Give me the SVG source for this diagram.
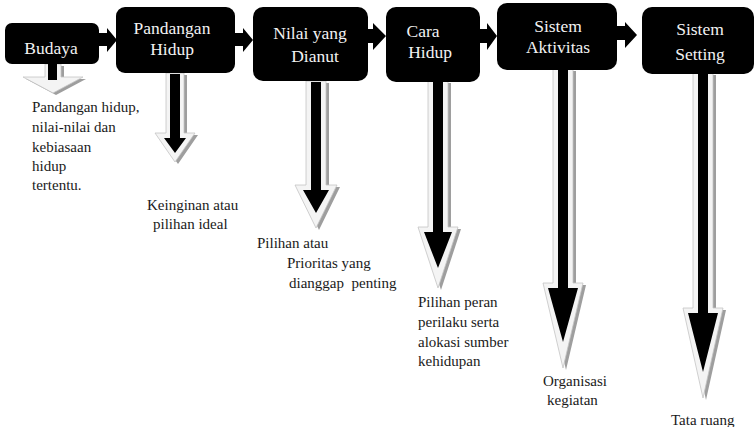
<svg xmlns="http://www.w3.org/2000/svg" width="754" height="427" viewBox="0 0 754 427">
<style>
.box{fill:#000}
.lbl{font-family:"Liberation Serif","Times New Roman",serif;font-size:17.5px;fill:#f2f2f2;text-anchor:middle}
.txt{font-family:"Liberation Serif","Times New Roman",serif;font-size:15px;fill:#1a1a1a}
.harr{fill:#000}
.sh{fill:#9e9e9e}
.out{fill:#f4f4f4;stroke:#c4c4c4;stroke-width:0.8}
.in{fill:#000}
</style>
<rect width="754" height="427" fill="#fff"/>
<g id="connectors">
  <polygon class="harr" points="97,33 107,33 107,28 117,40 107,52 107,46 97,46"/>
  <polygon class="harr" points="234,33 243,33 243,28 253,40 243,52 243,46 234,46"/>
  <polygon class="harr" points="366,29 373,29 373,23 386,36 373,50 373,43 366,43"/>
  <polygon class="harr" points="479,29 487,29 487,23 497,36 487,50 487,43 479,43"/>
  <polygon class="harr" points="616,26 625,26 625,22 637,35 625,48 625,40 616,40"/>

  <g id="arrow-budaya">
    <polygon class="sh" points="48,66 64,66 64,79 86,79 56,95 26,79 48,79"/>
    <polygon class="out" fill="#e2e2e2" points="45,64 61,64 61,77 83,77 53,93 23,77 45,77"/>
    <rect class="in" x="48" y="64" width="9" height="16"/>
  </g>
  <g id="arrow-pandangan">
    <polygon class="sh" points="169,75 187,75 187,135 198,135 178,164 158,135 169,135"/>
    <polygon class="out" points="166,73 184,73 184,133 195,133 175,162 155,133 166,133"/>
    <polygon class="in" points="170,74 180,74 180,138 186,138 175,153 164,138 170,138"/>
  </g>
  <g id="arrow-nilai">
    <polygon class="sh" points="309,83 329,83 329,187 340,187 319,230 298,187 309,187"/>
    <polygon class="out" points="306,81 326,81 326,185 337,185 316,228 295,185 306,185"/>
    <polygon class="in" points="311,82 321,82 321,190 329,190 316,213 303,190 311,190"/>
  </g>
  <g id="arrow-cara">
    <polygon class="sh" points="431,83 451,83 451,229 461,229 441,290 421,229 431,229"/>
    <polygon class="out" points="428,81 448,81 448,227 458,227 438,288 418,227 428,227"/>
    <polygon class="in" points="433,82 443,82 443,232 452,232 438,268 424,232 433,232"/>
  </g>
  <g id="arrow-aktivitas">
    <polygon class="sh" points="556,71 576,71 576,285 586,285 566,370 546,285 556,285"/>
    <polygon class="out" points="553,69 573,69 573,283 583,283 563,368 543,283 553,283"/>
    <polygon class="in" points="558,70 568,70 568,288 578,288 563,342 548,288 558,288"/>
  </g>
  <g id="arrow-setting">
    <polygon class="sh" points="696,75 716,75 716,310 726,310 706,400 686,310 696,310"/>
    <polygon class="out" points="693,73 713,73 713,308 723,308 703,398 683,308 693,308"/>
    <polygon class="in" points="698,74 708,74 708,313 718,313 703,372 688,313 698,313"/>
  </g>
</g>

<g id="node-budaya">
  <rect class="box" x="5" y="23" width="94" height="41" rx="7"/>
  <text class="lbl" x="51" y="54">Budaya</text>
</g>
<g id="node-pandangan">
  <rect class="box" x="116" y="7" width="119" height="66" rx="9"/>
  <text class="lbl" x="172" y="34">Pandangan</text>
  <text class="lbl" x="172" y="55">Hidup</text>
</g>
<g id="node-nilai">
  <rect class="box" x="253" y="7" width="115" height="74" rx="10"/>
  <text class="lbl" x="310" y="39">Nilai yang</text>
  <text class="lbl" x="315" y="62">Dianut</text>
</g>
<g id="node-cara">
  <rect class="box" x="386" y="7" width="94" height="75" rx="10"/>
  <text class="lbl" x="423" y="37">Cara</text>
  <text class="lbl" x="430" y="58">Hidup</text>
</g>
<g id="node-aktivitas">
  <rect class="box" x="497" y="3" width="120" height="67" rx="10"/>
  <text class="lbl" x="558" y="32">Sistem</text>
  <text class="lbl" x="558" y="53">Aktivitas</text>
</g>
<g id="node-setting">
  <rect class="box" x="642" y="7" width="112" height="67" rx="10"/>
  <text class="lbl" x="700" y="35">Sistem</text>
  <text class="lbl" x="700" y="60">Setting</text>
</g>

<g id="desc-budaya">
  <text class="txt" x="32" y="112">Pandangan hidup,</text>
  <text class="txt" x="32" y="132">nilai-nilai dan</text>
  <text class="txt" x="32" y="152">kebiasaan</text>
  <text class="txt" x="32" y="171">hidup</text>
  <text class="txt" x="32" y="190">tertentu.</text>
</g>
<g id="desc-pandangan">
  <text class="txt" x="147" y="210">Keinginan atau</text>
  <text class="txt" x="153" y="229">pilihan ideal</text>
</g>
<g id="desc-nilai">
  <text class="txt" x="257" y="248">Pilihan atau</text>
  <text class="txt" x="287" y="268">Prioritas yang</text>
  <text class="txt" x="289" y="288" xml:space="preserve">dianggap  penting</text>
</g>
<g id="desc-cara">
  <text class="txt" x="418" y="307">Pilihan peran</text>
  <text class="txt" x="418" y="327">perilaku serta</text>
  <text class="txt" x="418" y="347">alokasi sumber</text>
  <text class="txt" x="418" y="366">kehidupan</text>
</g>
<g id="desc-aktivitas">
  <text class="txt" x="543" y="386">Organisasi</text>
  <text class="txt" x="547" y="405">kegiatan</text>
</g>
<g id="desc-setting">
  <text class="txt" x="671" y="425">Tata ruang</text>
</g>
</svg>
